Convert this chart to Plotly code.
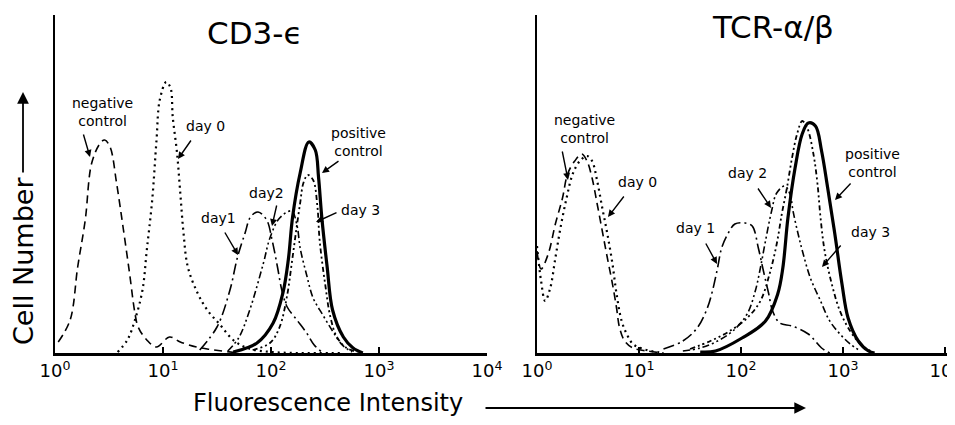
import numpy as np
import plotly.graph_objects as go

# x values are decades (log10 of fluorescence intensity), y values are cell number (arbitrary units)

# CD3-epsilon panel
cd3_neg_dec = [0.03, 0.14, 0.21, 0.28, 0.34, 0.42, 0.46, 0.51, 0.57, 0.63, 0.69, 0.74, 0.77, 0.85, 0.94, 1.06, 1.16, 1.31, 1.41, 1.70]
cd3_neg_cnt = [11, 33, 86, 133, 190, 210, 213, 206, 170, 126, 80, 40, 26, 13, 6, 16, 11, 6, 4, 0]

cd3_d0_dec = [0.58, 0.67, 0.74, 0.81, 0.85, 0.90, 0.94, 0.97, 1.03, 1.07, 1.09, 1.13, 1.16, 1.19, 1.23, 1.32, 1.41, 1.53, 1.65, 1.78, 2.00, 2.64]
cd3_d0_cnt = [1, 13, 33, 63, 103, 153, 213, 253, 271, 265, 236, 200, 160, 120, 86, 60, 43, 28, 13, 5, 1, 0]

cd3_d1_dec = [1.34, 1.50, 1.62, 1.69, 1.76, 1.81, 1.88, 1.96, 2.01, 2.06, 2.10, 2.15, 2.24, 2.33, 2.40, 2.47]
cd3_d1_cnt = [3, 26, 63, 96, 120, 136, 141, 133, 113, 86, 63, 46, 33, 20, 8, 1]

cd3_d2_dec = [1.60, 1.70, 1.80, 1.93, 1.99, 2.08, 2.19, 2.24, 2.27, 2.33, 2.39, 2.48, 2.57, 2.66, 2.75]
cd3_d2_cnt = [2, 15, 42, 90, 115, 135, 142, 128, 105, 78, 55, 38, 22, 8, 1]

cd3_d3_dec = [1.83, 1.99, 2.08, 2.15, 2.19, 2.23, 2.27, 2.30, 2.34, 2.39, 2.43, 2.45, 2.50, 2.55, 2.61, 2.70, 2.80]
cd3_d3_cnt = [3, 10, 26, 58, 88, 120, 150, 170, 178, 173, 146, 113, 70, 36, 16, 5, 1]

cd3_pos_dec = [1.65, 1.87, 2.02, 2.11, 2.16, 2.20, 2.27, 2.35, 2.41, 2.44, 2.47, 2.52, 2.57, 2.67, 2.76, 2.85]
cd3_pos_cnt = [1, 10, 30, 60, 93, 136, 180, 211, 203, 176, 136, 86, 43, 16, 5, 0]

# TCR-alpha/beta panel
tcr_neg_dec = [0.00, 0.04, 0.11, 0.18, 0.25, 0.30, 0.37, 0.44, 0.49, 0.54, 0.59, 0.64, 0.69, 0.74, 0.78, 0.81, 0.86, 0.94, 1.08, 1.24]
tcr_neg_cnt = [102, 84, 99, 129, 155, 179, 192, 199, 192, 175, 149, 122, 95, 69, 45, 25, 12, 5, 2, 0]

tcr_d0_dec = [0.00, 0.04, 0.08, 0.13, 0.18, 0.23, 0.29, 0.35, 0.42, 0.49, 0.54, 0.59, 0.64, 0.69, 0.74, 0.78, 0.83, 0.88, 0.94, 1.04, 1.24]
tcr_d0_cnt = [107, 72, 52, 65, 95, 125, 155, 179, 192, 197, 192, 172, 145, 119, 89, 59, 32, 19, 9, 4, 0]

tcr_d1_dec = [1.24, 1.43, 1.57, 1.67, 1.72, 1.77, 1.81, 1.87, 1.94, 2.04, 2.11, 2.17, 2.22, 2.27, 2.31, 2.38, 2.50, 2.66, 2.79, 2.87]
tcr_d1_cnt = [4, 12, 25, 45, 62, 85, 105, 119, 129, 130, 127, 105, 82, 60, 42, 30, 27, 19, 5, 0]

tcr_d2_dec = [1.43, 1.60, 1.77, 1.92, 2.06, 2.14, 2.19, 2.24, 2.30, 2.35, 2.43, 2.48, 2.51, 2.56, 2.61, 2.68, 2.78, 2.87, 2.97, 3.07, 3.17]
tcr_d2_cnt = [2, 5, 12, 22, 39, 62, 85, 112, 142, 160, 167, 159, 142, 119, 99, 75, 52, 32, 19, 9, 2]

tcr_d3_dec = [1.50, 1.70, 1.89, 2.06, 2.19, 2.28, 2.35, 2.40, 2.45, 2.50, 2.55, 2.60, 2.65, 2.71, 2.75, 2.78, 2.82, 2.89, 2.97, 3.07, 3.17, 3.27]
tcr_d3_cnt = [4, 12, 22, 35, 52, 79, 109, 139, 165, 195, 219, 232, 225, 199, 169, 135, 102, 69, 42, 22, 9, 2]

tcr_pos_dec = [1.60, 1.75, 2.01, 2.24, 2.36, 2.41, 2.46, 2.53, 2.60, 2.66, 2.73, 2.79, 2.85, 2.92, 2.99, 3.05, 3.15, 3.25, 3.31]
tcr_pos_cnt = [1, 2, 15, 32, 59, 85, 135, 185, 219, 230, 227, 202, 165, 119, 69, 35, 12, 2, 0]

tick_vals = [1, 10, 100, 1000, 10000]
tick_text = ["10<sup>0</sup>", "10<sup>1</sup>", "10<sup>2</sup>", "10<sup>3</sup>", "10<sup>4</sup>"]

# the page body has an 8px margin, so the figure sits at (8, 8) in the window
OFF = 8
W, H = 955 - OFF, 425 - OFF
FONT = "DejaVu Sans"

# line styles
styles = {
    "neg": dict(dash="8px,5px", width=1.6),
    "d0": dict(dash="2px,4px", width=2.2),
    "d1": dict(dash="11px,4px,2px,4px", width=1.6),
    "d2": dict(dash="7px,3px,2px,3px,2px,3px", width=1.6),
    "d3": dict(dash="5px,3px,2px,3px,2px,3px", width=1.8),
    "pos": dict(dash="solid", width=3.2),
}

panels = [
    ("x", "y", [("neg", cd3_neg_dec, cd3_neg_cnt), ("d0", cd3_d0_dec, cd3_d0_cnt),
                ("d1", cd3_d1_dec, cd3_d1_cnt), ("d2", cd3_d2_dec, cd3_d2_cnt),
                ("d3", cd3_d3_dec, cd3_d3_cnt), ("pos", cd3_pos_dec, cd3_pos_cnt)]),
    ("x2", "y2", [("neg", tcr_neg_dec, tcr_neg_cnt), ("d0", tcr_d0_dec, tcr_d0_cnt),
                  ("d1", tcr_d1_dec, tcr_d1_cnt), ("d2", tcr_d2_dec, tcr_d2_cnt),
                  ("d3", tcr_d3_dec, tcr_d3_cnt), ("pos", tcr_pos_dec, tcr_pos_cnt)]),
]

fig = go.Figure()
for xa, ya, curves in panels:
    for key, dec, cnt in curves:
        fig.add_trace(go.Scatter(
            x=10 ** np.array(dec), y=cnt, xaxis=xa, yaxis=ya,
            mode="lines", line_shape="spline",
            line=dict(color="black", smoothing=1.0, **styles[key]),
            showlegend=False, hoverinfo="skip",
        ))


def px(x):
    return (x - OFF) / W


def py(y):
    return 1 - (y - OFF) / H


xaxis_common = dict(
    type="log", showgrid=False, zeroline=False, showline=True, linecolor="black",
    linewidth=2.6, ticks="inside", ticklen=6, tickwidth=1.5, tickcolor="black",
    tickvals=tick_vals, ticktext=tick_text, automargin=False, ticklabeloverflow="allow",
    tickfont=dict(family=FONT, size=18, color="black"),
)
yaxis_common = dict(
    range=[0, 338], showgrid=False, zeroline=False, showline=True, linecolor="black",
    linewidth=2.2, showticklabels=False, ticks="", automargin=False,
)

fig.update_layout(
    width=W, height=H,
    margin=dict(l=0, r=0, t=0, b=0, autoexpand=False),
    paper_bgcolor="white", plot_bgcolor="white",
    xaxis=dict(domain=[px(55), px(487)], range=[0, 4], anchor="y", **xaxis_common),
    yaxis=dict(domain=[py(353), py(15)], anchor="x", **yaxis_common),
    xaxis2=dict(domain=[px(537), 1.0], range=[0, 4.098], anchor="y2", **xaxis_common),
    yaxis2=dict(domain=[py(353), py(15)], anchor="x2", **yaxis_common),
    font=dict(family=FONT, color="black"),
)

ann = []


def label(text, x, y, size=14):
    ann.append(dict(text=text, x=px(x), y=py(y), xref="paper", yref="paper",
                    showarrow=False, font=dict(family=FONT, size=size, color="black"),
                    xanchor="center", yanchor="middle"))


def arrow(x0, y0, x1, y1, width=1.4, size=1.0):
    ann.append(dict(text="", x=px(x1), y=py(y1), xref="paper", yref="paper",
                    ax=x0 - x1, ay=y0 - y1, showarrow=True, arrowhead=2,
                    arrowsize=size, arrowwidth=width, arrowcolor="black",
                    standoff=0, startstandoff=0))


# titles
label("CD3-ϵ", 255, 33, size=31)
label("TCR-α/β", 773, 27, size=31)

# left panel labels
label("negative<br>control", 102, 112)
arrow(83, 133, 90, 157)
label("day 0", 205, 126)
arrow(192, 139, 178, 159)
label("positive<br>control", 358, 142)
arrow(340, 160, 322, 173)
label("day2", 266, 193)
arrow(277, 204, 272, 226)
label("day1", 218, 218)
arrow(224, 231, 238, 255)
label("day 3", 360, 210)
arrow(338, 212, 316, 222)

# right panel labels
label("negative<br>control", 584, 129)
arrow(562, 150, 568, 180)
label("day 0", 637, 182)
arrow(625, 195, 608, 217)
label("day 2", 747, 173)
arrow(757, 187, 771, 208)
label("day 1", 695, 228)
arrow(705, 242, 717, 264)
label("positive<br>control", 872, 163)
arrow(852, 182, 835, 200)
label("day 3", 870, 232)
arrow(842, 244, 822, 267)

# axis titles with arrows
ann.append(dict(text="Cell Number", x=px(23), y=py(261), xref="paper", yref="paper",
                showarrow=False, textangle=-90, xanchor="center", yanchor="middle",
                font=dict(family=FONT, size=27, color="black")))
arrow(23, 174, 23, 92, width=1.8, size=1.3)
label("Fluorescence Intensity", 328, 403, size=24)
arrow(484, 408, 806, 408, width=1.8, size=1.3)

fig.update_layout(annotations=ann)

fig.write_html("out.html")
